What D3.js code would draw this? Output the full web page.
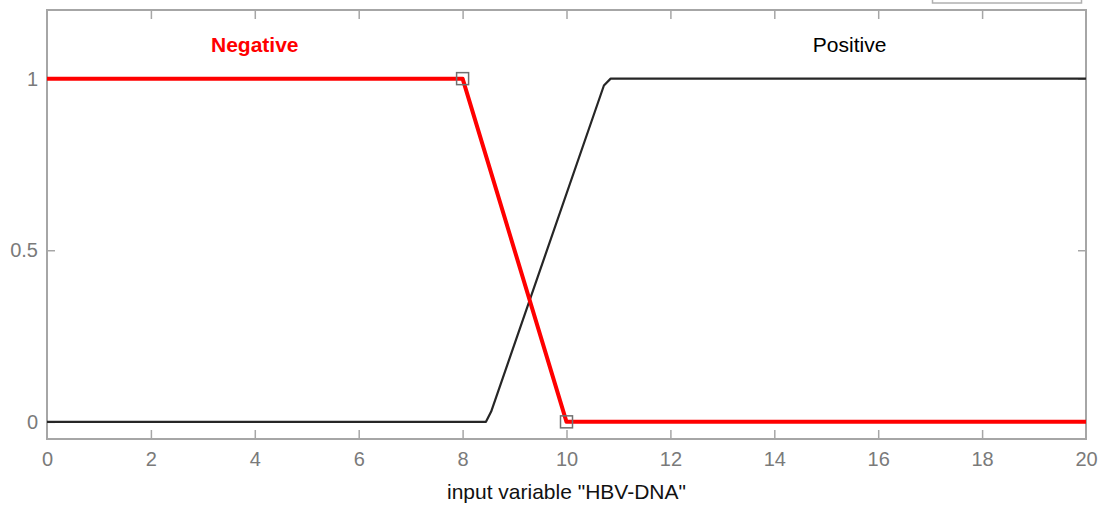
<!DOCTYPE html>
<html>
<head>
<meta charset="utf-8">
<script src="https://cdn.jsdelivr.net/npm/d3@7"></script>
<style>
  html, body { margin: 0; padding: 0; background: #fff; }
  svg { display: block; }
  text { font-family: "Liberation Sans", Arial, sans-serif; }
</style>
</head>
<body>
<svg id="chart" width="1104" height="506"></svg>
<script>
// Data
const xTicks = [0, 2, 4, 6, 8, 10, 12, 14, 16, 18, 20];
const yTicks = [0, 0.5, 1];
const negativeX = [0, 8, 10, 20];
const negativeY = [1, 1, 0, 0];
const positiveX = [0, 8.45, 8.55, 10.72, 10.85, 20];
const positiveY = [0, 0, 0.03, 0.98, 1, 1];
const markerX = [8, 10];
const markerY = [1, 0];
const labels = [
  { text: "Negative", x: 4, y: 1.1, color: "#ff0000", weight: "bold" },
  { text: "Positive", x: 15.45, y: 1.1, color: "#000000", weight: "normal" }
];
const xTitle = 'input variable "HBV-DNA"';

const svg = d3.select("#chart");
const pLeft = 47, pRight = 1086, pTop = 10, pBottom = 439;
const x = d3.scaleLinear().domain([0, 20]).range([pLeft, pRight]);
const y = d3.scaleLinear().domain([-0.05, 1.2]).range([pBottom, pTop]);

const axisColor = "#a6a6a6";
const labelColor = "#7a7a7a";

// partial legend box at top right
svg.append("rect")
  .attr("x", 932.5).attr("y", -20).attr("width", 149).attr("height", 23)
  .attr("fill", "#fff").attr("stroke", "#b0b0b0").attr("stroke-width", 1.5);

// Plot frame
svg.append("rect")
  .attr("x", pLeft).attr("y", pTop).attr("width", pRight - pLeft).attr("height", pBottom - pTop)
  .attr("fill", "none").attr("stroke", axisColor).attr("stroke-width", 2);

// Bottom axis (ticks inward)
const xAxisB = d3.axisBottom(x).tickValues(xTicks).tickSizeInner(-9).tickSizeOuter(0).tickPadding(13).tickFormat(d3.format("d"));
const gxb = svg.append("g").attr("transform", `translate(0,${pBottom})`).call(xAxisB);
gxb.select(".domain").remove();
gxb.selectAll("line").attr("stroke", axisColor).attr("stroke-width", 1.5);
gxb.selectAll("text").attr("fill", labelColor).attr("font-size", 20).attr("font-family", "Liberation Sans, Arial, sans-serif");
gxb.selectAll(".tick").filter(d => d === 0 || d === 20).select("line").remove();

// Top axis (ticks inward, no labels)
const xAxisT = d3.axisTop(x).tickValues(xTicks).tickSizeInner(-9).tickSizeOuter(0).tickFormat("");
const gxt = svg.append("g").attr("transform", `translate(0,${pTop})`).call(xAxisT);
gxt.select(".domain").remove();
gxt.selectAll("line").attr("stroke", axisColor).attr("stroke-width", 1.5);
gxt.selectAll(".tick").filter(d => d === 0 || d === 20).select("line").remove();

// Left axis
const yAxisL = d3.axisLeft(y).tickValues(yTicks).tickSizeInner(-8).tickSizeOuter(0).tickPadding(9).tickFormat(d => d === 0.5 ? "0.5" : String(d));
const gyl = svg.append("g").attr("transform", `translate(${pLeft},0)`).call(yAxisL);
gyl.select(".domain").remove();
gyl.selectAll("line").attr("stroke", axisColor).attr("stroke-width", 1.5);
gyl.selectAll("text").attr("fill", labelColor).attr("font-size", 20).attr("font-family", "Liberation Sans, Arial, sans-serif");

// Right axis
const yAxisR = d3.axisRight(y).tickValues(yTicks).tickSizeInner(-8).tickSizeOuter(0).tickFormat("");
const gyr = svg.append("g").attr("transform", `translate(${pRight},0)`).call(yAxisR);
gyr.select(".domain").remove();
gyr.selectAll("line").attr("stroke", axisColor).attr("stroke-width", 1.5);

// X title
svg.append("text")
  .attr("x", x(10)).attr("y", 499)
  .attr("text-anchor", "middle").attr("font-size", 21).attr("fill", "#111")
  .text(xTitle);

// Lines
const posData = positiveX.map((v, i) => [v, positiveY[i]]);
const negData = negativeX.map((v, i) => [v, negativeY[i]]);

svg.append("path")
  .datum(posData)
  .attr("d", d3.line().x(d => x(d[0])).y(d => y(d[1])))
  .attr("fill", "none").attr("stroke", "#262626").attr("stroke-width", 2.2)
  .attr("stroke-linejoin", "round");

svg.append("path")
  .datum(negData)
  .attr("d", d3.line().x(d => x(d[0])).y(d => y(d[1])))
  .attr("fill", "none").attr("stroke", "#ff0000").attr("stroke-width", 4)
  .attr("stroke-linejoin", "round");

// Markers
svg.selectAll("rect.marker")
  .data(markerX.map((v, i) => [v, markerY[i]]))
  .enter().append("rect")
  .attr("class", "marker")
  .attr("x", d => x(d[0]) - 6).attr("y", d => y(d[1]) - 6)
  .attr("width", 12).attr("height", 12)
  .attr("fill", "none").attr("stroke", "#707070").attr("stroke-width", 1.5);

// MF labels
svg.selectAll("text.mf")
  .data(labels)
  .enter().append("text")
  .attr("class", "mf")
  .attr("x", d => x(d.x)).attr("y", d => y(d.y) + 8)
  .attr("text-anchor", "middle")
  .attr("font-size", 21)
  .attr("font-weight", d => d.weight)
  .attr("fill", d => d.color)
  .text(d => d.text);
</script>
</body>
</html>
